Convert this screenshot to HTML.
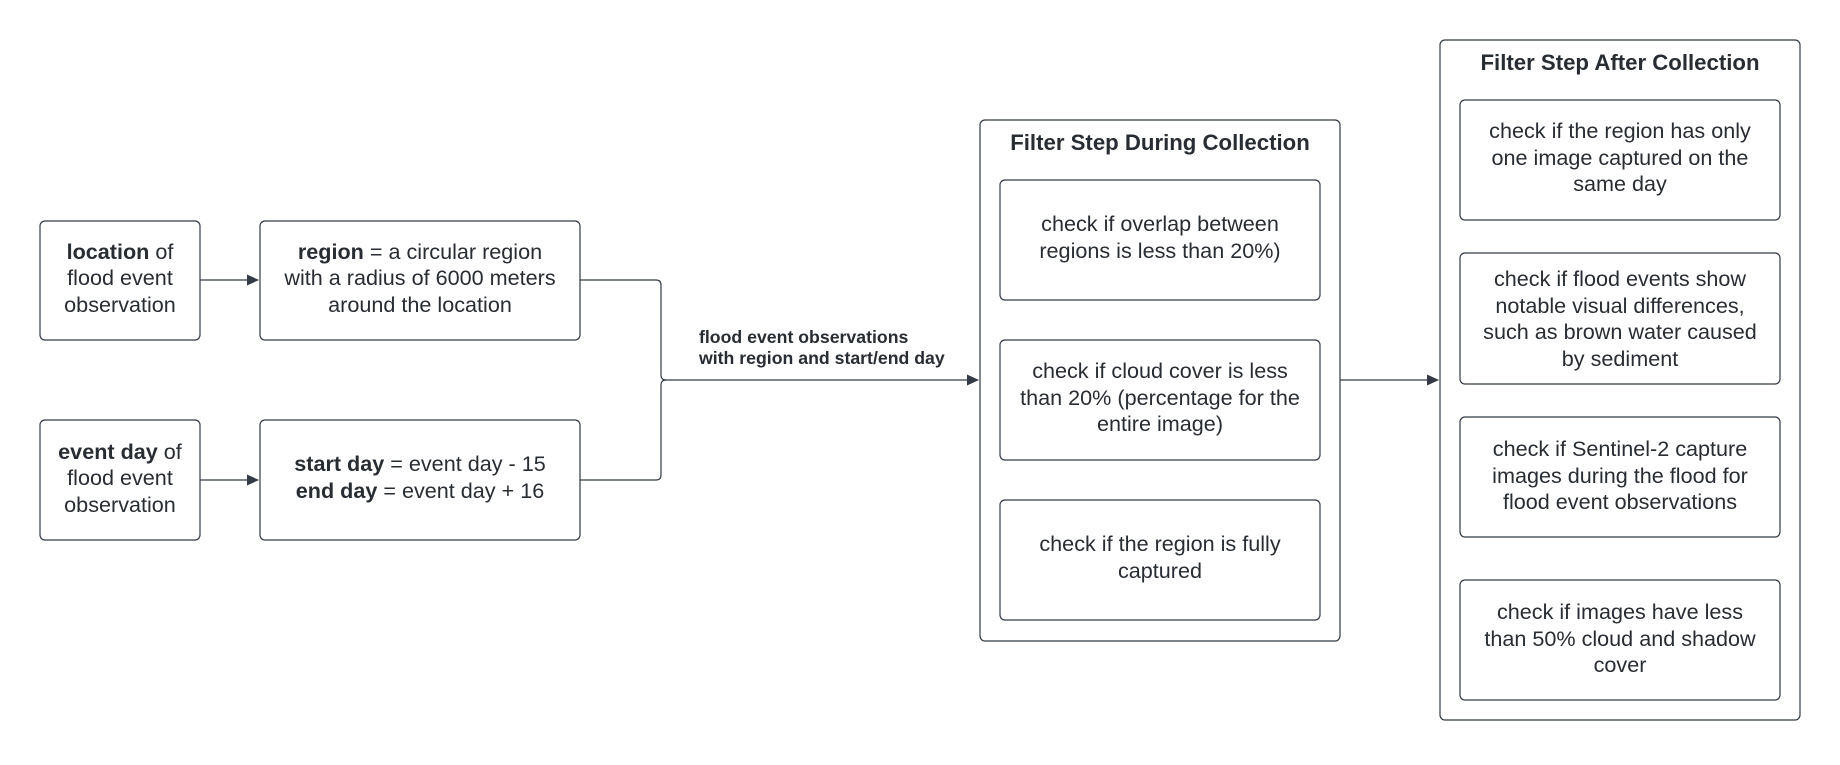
<!DOCTYPE html>
<html><head><style>
body{margin:0;background:#fff;}
svg text{font-family:"Liberation Sans",sans-serif;fill:#282c33;}
</style></head><body>
<svg width="1840" height="760" xmlns="http://www.w3.org/2000/svg">
<defs><marker id="a" markerWidth="12" markerHeight="12" refX="11" refY="6" orient="auto" markerUnits="userSpaceOnUse"><path d="M0,0.5 L12,6 L0,11.5 z" fill="#333a45"/></marker></defs>
<g fill="none" stroke="#333a45" stroke-width="1.2">
<rect x="40" y="221" width="160" height="119" rx="5"/>
<rect x="260" y="221" width="320" height="119" rx="5"/>
<rect x="40" y="420" width="160" height="120" rx="5"/>
<rect x="260" y="420" width="320" height="120" rx="5"/>
<rect x="980" y="120" width="360" height="521" rx="5"/>
<rect x="1000" y="180" width="320" height="120" rx="5"/>
<rect x="1000" y="340" width="320" height="120" rx="5"/>
<rect x="1000" y="500" width="320" height="120" rx="5"/>
<rect x="1440" y="40" width="360" height="680" rx="5"/>
<rect x="1460" y="100" width="320" height="120" rx="5"/>
<rect x="1460" y="253" width="320" height="131" rx="5"/>
<rect x="1460" y="417" width="320" height="120" rx="5"/>
<rect x="1460" y="580" width="320" height="120" rx="5"/>
<path d="M200,280 H258" marker-end="url(#a)"/>
<path d="M200,480 H258" marker-end="url(#a)"/>
<path d="M580,280 H656 Q661,280 661,285 V375 Q661,380 666,380 H978" marker-end="url(#a)"/>
<path d="M580,480 H656 Q661,480 661,475 V385 Q661,380 666,380"/>
<path d="M1340,380 H1438" marker-end="url(#a)"/>
</g>
<g font-size="21.6" text-anchor="middle">
<text x="120" y="259"><tspan font-weight="bold">location</tspan> of</text>
<text x="120" y="285">flood event</text>
<text x="120" y="312">observation</text>
<text x="420" y="259"><tspan font-weight="bold">region</tspan> = a circular region</text>
<text x="420" y="285">with a radius of 6000 meters</text>
<text x="420" y="312">around the location</text>
<text x="120" y="459"><tspan font-weight="bold">event day</tspan> of</text>
<text x="120" y="485">flood event</text>
<text x="120" y="512">observation</text>
<text x="420" y="471"><tspan font-weight="bold">start day</tspan> = event day - 15</text>
<text x="420" y="498"><tspan font-weight="bold">end day</tspan> = event day + 16</text>
<text x="1160" y="150" font-weight="bold" font-size="22.2">Filter Step During Collection</text>
<text x="1160" y="231">check if overlap between</text>
<text x="1160" y="258">regions is less than 20%)</text>
<text x="1160" y="378">check if cloud cover is less</text>
<text x="1160" y="405">than 20% (percentage for the</text>
<text x="1160" y="431">entire image)</text>
<text x="1160" y="551">check if the region is fully</text>
<text x="1160" y="578">captured</text>
<text x="1620" y="70" font-weight="bold" font-size="22.2">Filter Step After Collection</text>
<text x="1620" y="138">check if the region has only</text>
<text x="1620" y="165">one image captured on the</text>
<text x="1620" y="191">same day</text>
<text x="1620" y="286">check if flood events show</text>
<text x="1620" y="313">notable visual differences,</text>
<text x="1620" y="339">such as brown water caused</text>
<text x="1620" y="366">by sediment</text>
<text x="1620" y="456">check if Sentinel-2 capture</text>
<text x="1620" y="483">images during the flood for</text>
<text x="1620" y="509">flood event observations</text>
<text x="1620" y="619">check if images have less</text>
<text x="1620" y="646">than 50% cloud and shadow</text>
<text x="1620" y="672">cover</text>
</g>
<g font-size="17.7" font-weight="bold">
<text x="699" y="343">flood event observations</text>
<text x="699" y="364">with region and start/end day</text>
</g>
</svg>
</body></html>
